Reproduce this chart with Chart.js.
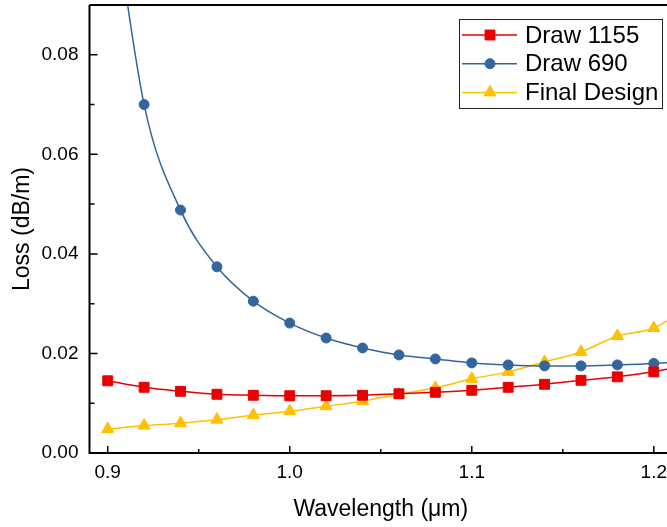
<!DOCTYPE html>
<html>
<head>
<meta charset="utf-8">
<script src="https://cdn.jsdelivr.net/npm/chart.js@4.4.1/dist/chart.umd.min.js"></script>
<style>
  html, body { margin: 0; padding: 0; background: #fff; overflow: hidden; }
  #wrap { position: absolute; left: 0; top: -3px; width: 680px; height: 530px; }
</style>
</head>
<body>
<div id="wrap"><canvas id="c"></canvas></div>
<script>
// ---- data ----
const wavelengths = [0.90, 0.92, 0.94, 0.96, 0.98, 1.00, 1.02, 1.04, 1.06, 1.08, 1.10, 1.12, 1.14, 1.16, 1.18, 1.20, 1.22];
const draw1155 = [0.0145, 0.0132, 0.0124, 0.0118, 0.0116, 0.0115, 0.0115, 0.0116, 0.0119, 0.0122, 0.0126, 0.0132, 0.0138, 0.0146, 0.0153, 0.0163, 0.0179];
const draw690  = [0.118, 0.0700, 0.0488, 0.0374, 0.0305, 0.0261, 0.0231, 0.0211, 0.0197, 0.0189, 0.0181, 0.0177, 0.0175, 0.0175, 0.0177, 0.0180, 0.0185];
const finalDesign = [0.0048, 0.0055, 0.0060, 0.0067, 0.0076, 0.0084, 0.0094, 0.0104, 0.0118, 0.0131, 0.0149, 0.0163, 0.0183, 0.0203, 0.0235, 0.0251, 0.0295];
const seriesNames = ['Draw 1155', 'Draw 690', 'Final Design'];
const xTickValues = [0.9, 1.0, 1.1, 1.2];
const xMinorTicks = [0.95, 1.05, 1.15];
const yTickValues = [0.00, 0.02, 0.04, 0.06, 0.08];
const yMinorTicks = [0.01, 0.03, 0.05, 0.07];
const xRange = [0.89, 1.21];
const yRange = [0, 0.09];
const xTitle = 'Wavelength (\u03bcm)';
const yTitle = 'Loss (dB/m)';

const RED = '#EA0000', BLUE = '#33669C', YELLOW = '#FFC000';
const FONT = "'Liberation Sans', Arial, sans-serif";

function pts(vals) { return wavelengths.map((x, i) => ({ x: x, y: vals[i] })); }

function drawMarker(ctx, style, r, x, y, color) {
  ctx.save();
  ctx.fillStyle = color;
  ctx.strokeStyle = color;
  ctx.lineWidth = 1;
  ctx.beginPath();
  if (style === 'rect') {
    const s = Math.SQRT1_2 * r;
    ctx.rect(x - s, y - s, 2 * s, 2 * s);
  } else if (style === 'triangle') {
    let rad = 0;
    ctx.moveTo(x + Math.sin(rad) * r, y - Math.cos(rad) * r);
    rad += 2 * Math.PI / 3;
    ctx.lineTo(x + Math.sin(rad) * r, y - Math.cos(rad) * r);
    rad += 2 * Math.PI / 3;
    ctx.lineTo(x + Math.sin(rad) * r, y - Math.cos(rad) * r);
    ctx.closePath();
  } else {
    ctx.arc(x, y, r, 0, Math.PI * 2);
  }
  ctx.fill();
  ctx.stroke();
  ctx.restore();
}

const framePlugin = {
  id: 'frame',
  afterDatasetsDraw(chart) {
    const { ctx, chartArea: a, scales: { x, y } } = chart;
    ctx.save();
    ctx.strokeStyle = '#000';
    ctx.lineWidth = 2;
    ctx.beginPath();
    ctx.moveTo(a.left, a.top); ctx.lineTo(a.right, a.top);
    ctx.moveTo(a.left, a.top); ctx.lineTo(a.left, a.bottom);
    ctx.moveTo(a.left - 1, a.bottom); ctx.lineTo(a.right, a.bottom);
    ctx.moveTo(a.right, a.top); ctx.lineTo(a.right, a.bottom);
    ctx.stroke();
    ctx.lineWidth = 1.5;
    ctx.beginPath();
    xTickValues.forEach(v => { const px = x.getPixelForValue(v); ctx.moveTo(px, a.bottom); ctx.lineTo(px, a.bottom - 7); });
    xMinorTicks.forEach(v => { const px = x.getPixelForValue(v); ctx.moveTo(px, a.bottom); ctx.lineTo(px, a.bottom - 4); });
    yTickValues.forEach(v => { const py = y.getPixelForValue(v); ctx.moveTo(a.left, py); ctx.lineTo(a.left + 8, py); });
    yMinorTicks.forEach(v => { const py = y.getPixelForValue(v); ctx.moveTo(a.left, py); ctx.lineTo(a.left + 5, py); });
    ctx.stroke();

    // legend box
    const bx = a.right - 213, by = a.top + 14, bw = 203, bh = 89;
    ctx.fillStyle = '#fff';
    ctx.fillRect(bx, by, bw, bh);
    ctx.lineWidth = 1;
    ctx.strokeStyle = '#222';
    ctx.strokeRect(bx + 0.5, by + 0.5, bw, bh);
    ctx.font = '24px ' + FONT;
    ctx.textBaseline = 'middle';
    ctx.textAlign = 'left';
    chart.data.datasets.forEach((ds, i) => {
      const cy = by + 16 + i * 28.7;
      ctx.strokeStyle = ds.borderColor;
      ctx.lineWidth = 1.5;
      ctx.beginPath();
      ctx.moveTo(bx + 3, cy); ctx.lineTo(bx + 58, cy);
      ctx.stroke();
      drawMarker(ctx, ds.pointStyle, ds.pointRadius, bx + 31, cy, ds.pointBackgroundColor);
      ctx.fillStyle = '#000';
      ctx.fillText(ds.label, bx + 66, cy + 1);
    });
    ctx.restore();
  }
};

const mk = (label, vals, color, style, r) => ({
  label: label, data: pts(vals),
  borderColor: color, backgroundColor: color,
  pointBackgroundColor: color, pointBorderColor: color,
  pointStyle: style, pointRadius: r, pointBorderWidth: 1,
  borderWidth: 1.5, cubicInterpolationMode: 'monotone', showLine: true
});

new Chart(document.getElementById('c'), {
  type: 'scatter',
  data: {
    datasets: [
      mk(seriesNames[0], draw1155, RED, 'rect', 7),
      mk(seriesNames[1], draw690, BLUE, 'circle', 5),
      mk(seriesNames[2], finalDesign, YELLOW, 'triangle', 7)
    ]
  },
  plugins: [framePlugin],
  options: {
    responsive: true,
    maintainAspectRatio: false,
    animation: false,
    events: [],
    layout: { padding: { left: 0, right: 8, top: 2, bottom: 0 } },
    plugins: { legend: { display: false }, tooltip: { enabled: false } },
    scales: {
      x: {
        type: 'linear', min: xRange[0], max: xRange[1],
        afterBuildTicks: s => { s.ticks = xTickValues.map(v => ({ value: v })); },
        afterFit: s => { s.height = 74; s.paddingLeft = 0; s.paddingRight = 0; },
        grid: { display: false, drawTicks: false },
        border: { display: false },
        ticks: { color: '#000', padding: 8, font: { family: FONT, size: 19 }, callback: v => Number(v).toFixed(1), maxRotation: 0, autoSkip: false },
        title: { display: true, text: xTitle, color: '#000', font: { family: FONT, size: 23 }, padding: { top: 0, bottom: 4 } }
      },
      y: {
        type: 'linear', min: yRange[0], max: yRange[1],
        afterBuildTicks: s => { s.ticks = yTickValues.map(v => ({ value: v })); },
        afterFit: s => { s.width = 89.5; s.paddingTop = 0; s.paddingBottom = 0; },
        grid: { display: false, drawTicks: false },
        border: { display: false },
        ticks: { color: '#000', padding: 11, font: { family: FONT, size: 19 }, callback: v => Number(v).toFixed(2) },
        title: { display: true, text: yTitle, color: '#000', font: { family: FONT, size: 23 }, padding: { top: 9, bottom: 0 } }
      }
    }
  }
});
</script>
</body>
</html>
